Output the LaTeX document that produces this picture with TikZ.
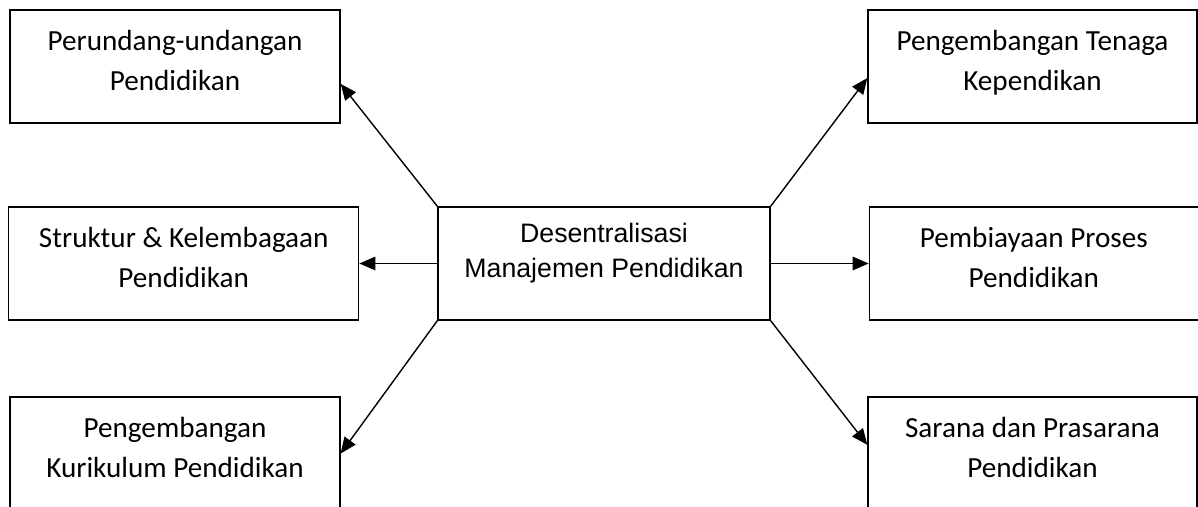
\documentclass[tikz,border=0pt]{standalone}
\usepackage{fontspec}
\usepackage{tikz}
\usetikzlibrary{arrows,arrows.meta,shapes,positioning}
\newfontfamily\boxfont{Carlito}
\newfontfamily\midfont{Liberation Sans}

\begin{document}
\begin{tikzpicture}[x=0.02cm, y=-0.02cm, line width=0.8pt,
  >={Triangle[length=0.32cm,width=0.27cm]},
  box/.style={draw, inner sep=0pt, minimum height=2.26cm, text width=6.2cm,
    align=flush center, text height=12pt, text depth=30pt,
    font=\boxfont\fontsize{16.6}{22.8}\selectfont},
  midbox/.style={box, text height=11pt, text depth=34.4pt,
    font=\midfont\fontsize{15.2}{19.9}\selectfont}]
  \useasboundingbox (0,0) rectangle (1198,507);
  \node [midbox, minimum width=6.64cm] (centre) at (604,263.5)
        {Desentralisasi\\Manajemen Pendidikan};
  % left column
  \node [box, minimum width=6.6cm] (law) at (175,66.5)
        {Perundang-undangan\\Pendidikan};
  \node [box, minimum width=7cm, left=1.56cm of centre] (struct)
        {Struktur \& Kelembagaan\\Pendidikan};
  \node [box, minimum width=6.6cm] (curric) at (175,453.5)
        {Pengembangan\\Kurikulum Pendidikan};
  % right column
  \node [box, minimum width=6.58cm] (staff) at (1032.5,66.5)
        {Pengembangan Tenaga\\Kependikan};
  \node [box, minimum width=6.58cm, right=1.96cm of centre] (finance)
        {Pembiayaan Proses\\Pendidikan};
  \node [box, minimum width=6.58cm] (facil) at (1032.5,453.5)
        {Sarana dan Prasarana\\Pendidikan};
  \draw [->] (centre.north west) -- (law.-6.4);
  \draw [->] (centre.west) -- (struct.east);
  \draw [->] (centre.south west) -- (curric.-0.5);
  \draw [->] (centre.north east) -- (staff.184.7);
  \draw [->] (centre.east) -- (finance.west);
  \draw [->] (centre.south east) -- (facil.177);
\end{tikzpicture}
\end{document}
